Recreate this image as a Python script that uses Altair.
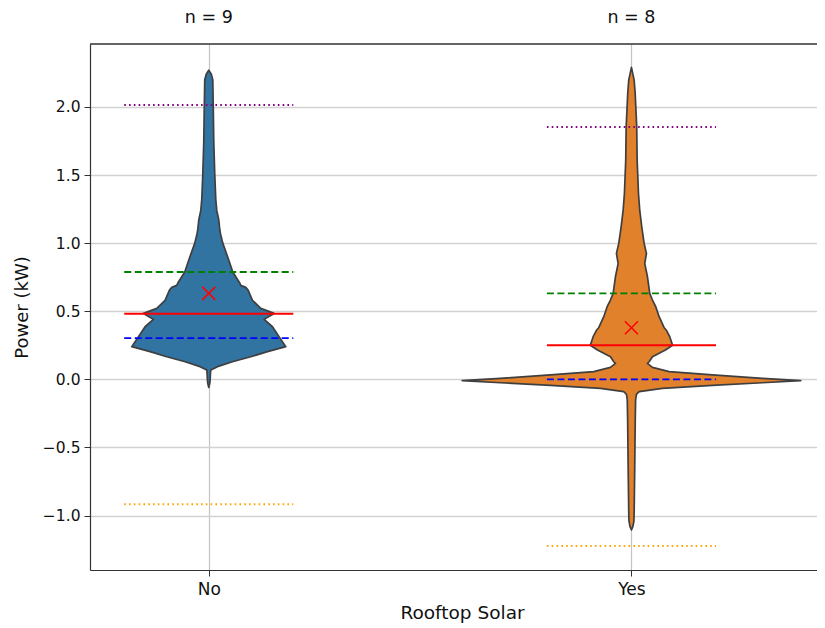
import altair as alt
import pandas as pd

# ---------------- data ----------------
categories = ["No", "Yes"]
cat_pos = [0, 1]
n_counts = [9, 8]

upper_dotted = [2.015, 1.852]   # purple dotted
q75 = [0.788, 0.631]            # green dashed
median = [0.482, 0.250]         # red solid
q25 = [0.303, 0.000]            # blue dashed
lower_dotted = [-0.918, -1.224] # orange dotted
means = [0.631, 0.379]          # red x

# violin outline: y value and half-width (in category units)
no_y = [-0.06, -0.03, 0.0, 0.044, 0.068, 0.093, 0.129, 0.166, 0.203, 0.24,
        0.313, 0.386, 0.44, 0.484, 0.521, 0.58, 0.655, 0.675, 0.69, 0.707,
        0.788, 0.876, 1.0, 1.07, 1.10, 1.17, 1.24, 1.32, 1.5, 1.75,
        2.0, 2.20, 2.24, 2.27]
no_w = [0.0, 0.0024, 0.0033, 0.004, 0.0047, 0.0206, 0.056, 0.0994, 0.1389, 0.1822,
        0.1663, 0.1507, 0.131, 0.1545, 0.123, 0.1034, 0.093, 0.0875, 0.0757, 0.0733,
        0.0568, 0.0473, 0.0331, 0.0277, 0.026, 0.0237, 0.0189, 0.0166, 0.0142, 0.0118,
        0.0106, 0.0095, 0.006, 0.0]

yes_y = [-1.106, -1.08, -1.04, -0.98, -0.64, -0.30, -0.15, -0.11, -0.091, -0.066,
         -0.044, -0.025, -0.010, 0.007, 0.032, 0.056, 0.088, 0.117, 0.129, 0.166,
         0.215, 0.25, 0.313, 0.36, 0.379, 0.46, 0.533, 0.582, 0.631, 0.753,
         0.85, 0.925, 0.998, 1.12, 1.243, 1.366, 1.61, 1.855, 2.10, 2.197, 2.29]
yes_w = [0.0, 0.0035, 0.0059, 0.0064, 0.0078, 0.009, 0.0099, 0.0118, 0.0182, 0.0733,
         0.1916, 0.3099, 0.4005, 0.3099, 0.1916, 0.0892, 0.0497, 0.0379, 0.0419, 0.0497,
         0.0804, 0.0973, 0.0906, 0.0828, 0.0774, 0.0655, 0.0575, 0.0497, 0.0433, 0.0379,
         0.0315, 0.0355, 0.030, 0.0244, 0.0196, 0.0166, 0.0135, 0.0125, 0.0088, 0.0064, 0.0]

violin_colors = ["#3274a1", "#e1812c"]
y_ticks = [-1.0, -0.5, 0.0, 0.5, 1.0, 1.5, 2.0]

# ---------------- build tables ----------------
rows = []
for cat, pos, ys, ws in [("No", 0, no_y, no_w), ("Yes", 1, yes_y, yes_w)]:
    for i, (y, w) in enumerate(zip(ys, ws)):
        rows.append({"cat": cat, "pos": pos, "y": y, "w": w, "i": i})
viol_df = pd.DataFrame(rows)

stats_df = pd.DataFrame({
    "cat": categories, "pos": cat_pos, "n": n_counts,
    "upper": upper_dotted, "q75": q75, "median": median, "q25": q25,
    "lower": lower_dotted, "mean": means,
})

W, H = 727, 526
FONT = "DejaVu Sans"
xscale = alt.Scale(domain=[-0.281, 1.439], nice=False, zero=False)
yscale = alt.Scale(domain=[-1.40, 2.462], nice=False, zero=False)

xaxis = alt.Axis(values=[0, 1], labelExpr="datum.value == 0 ? 'No' : 'Yes'",
                 title="Rooftop Solar", grid=True, gridColor="#c4c4c4", gridWidth=1.2,
                 domainColor="#333333", domainWidth=1.2, tickColor="#333333",
                 tickSize=6, labelFontSize=17, labelPadding=5, labelColor="#111111",
                 titleFontSize=18.5, titleFontWeight="normal", titleColor="#111111",
                 titleX=372, titleY=42, titleBaseline="middle", titleAlign="center")
yaxis = alt.Axis(values=y_ticks, format=".1f", title="Power (kW)", grid=True,
                 gridColor="#d2d2d2", gridWidth=1.5, domainColor="#333333",
                 domainWidth=1.2, tickColor="#333333", tickSize=6, labelFontSize=15.5,
                 labelPadding=4, labelColor="#111111", titleFontSize=18,
                 titleFontWeight="normal", titleColor="#111111",
                 titleX=-68, titleY=H / 2, titleAngle=-90, titleBaseline="middle",
                 titleAlign="center")


def X(field):
    return alt.X(field, scale=xscale, axis=xaxis)


def Y(field):
    return alt.Y(field, scale=yscale, axis=yaxis)


violin = alt.Chart(viol_df).transform_calculate(
    lo="datum.pos - datum.w", hi="datum.pos + datum.w"
).mark_area(orient="horizontal", stroke="#3f3f3f", strokeWidth=1.7,
            opacity=1, strokeJoin="round").encode(
    y=Y("y:Q"),
    x=X("lo:Q"),
    x2="hi:Q",
    color=alt.Color("cat:N", scale=alt.Scale(domain=categories, range=violin_colors),
                    legend=None),
)


def hline(field, color, dash=None, width=1.8):
    kw = dict(color=color, strokeWidth=width)
    if dash is not None:
        kw["strokeDash"] = dash
    return alt.Chart(stats_df).transform_calculate(
        a="datum.pos - 0.2", b="datum.pos + 0.2"
    ).mark_rule(**kw).encode(x=X("a:Q"), x2="b:Q", y=Y(f"{field}:Q"))


lines = [
    hline("upper", "purple", [1.6, 3.2], 2.0),
    hline("q75", "green", [7, 3.5], 1.8),
    hline("median", "red", None, 2.0),
    hline("q25", "blue", [7, 3.5], 1.8),
    hline("lower", "orange", [1.6, 3.2], 2.0),
]

mean_pts = alt.Chart(stats_df).mark_point(
    shape="M-1,-1L1,1M-1,1L1,-1", filled=False, color="red", strokeWidth=1.5, size=170,
    opacity=1
).encode(x=X("pos:Q"), y=Y("mean:Q"))

n_text = alt.Chart(stats_df).transform_calculate(
    label="'n = ' + datum.n"
).mark_text(fontSize=17.5, font=FONT, color="#111111", baseline="middle").encode(
    x=X("pos:Q"), y=alt.value(-26), text="label:N"
)

top_border = alt.Chart(stats_df).mark_rule(color="#333333", strokeWidth=1.2).encode(
    x=alt.value(0), x2=alt.value(W), y=alt.value(0)
)

chart = alt.layer(violin, *lines, mean_pts, n_text, top_border).properties(
    width=W, height=H,
    padding={"left": 82, "top": 36, "right": 0, "bottom": 56},
    autosize=alt.AutoSizeParams(type="none"),
).configure(font=FONT).configure_view(stroke=None)

chart.save("out.html", embed_options={"renderer": "svg", "actions": False})
